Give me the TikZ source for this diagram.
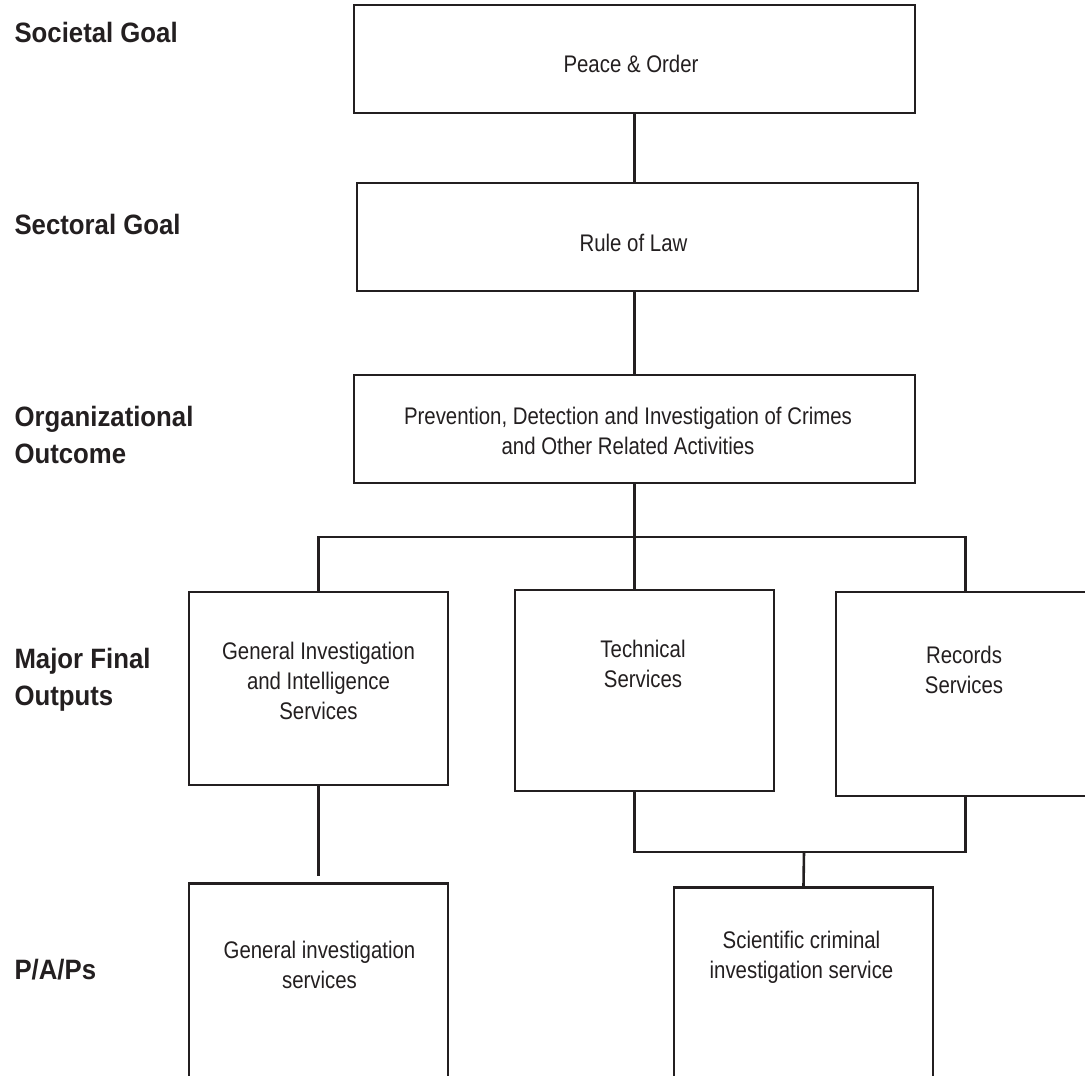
\documentclass[tikz,border=0pt]{standalone}
\usepackage{fontspec}
\setmainfont{Liberation Sans}
\newfontfamily\levelfont[FakeStretch=0.92]{Liberation Sans}
\newfontfamily\boxfont[FakeStretch=0.85]{Liberation Sans}
\usepackage{tikz}
\definecolor{ink}{HTML}{231F20}
\tikzset{
  box/.style={draw=ink, line width=2.6pt, minimum width=259pt, inner sep=0pt},
  widebox/.style={box, minimum width=561pt, minimum height=108pt},
  boxtext/.style={align=center, text=ink, font=\boxfont\fontsize{24}{30}\selectfont},
  level/.style={anchor=west, align=left, text=ink, font=\levelfont\bfseries\fontsize{28}{37}\selectfont},
  link/.style={draw=ink, line width=2.6pt}
}

\begin{document}
\begin{tikzpicture}[x=1pt,y=-1pt]
            \useasboundingbox (0,0) rectangle (1085,1076);
            \clip (0,0) rectangle (1085,1076);
            % levels
            \node[level] (societal) at (11,32) {Societal Goal};
            \node[level] (sectoral) at (11,224) {Sectoral Goal};
            \node[level] (outcome) at (11,435) {Organizational\\Outcome};
            \node[level] (mfo) at (11,680) {Major Final\\Outputs};
            \node[level] (paps) at (11,970) {P/A/Ps};
            % boxes
            \node[widebox] (peace) at (634.5,59) {};
            \node[widebox] (rule) at (637.5,237) {};
            \node[widebox] (org) at (634.5,429) {};
            \node[box, minimum height=193pt] (giis) at (318.5,688.5) {};
            \node[box, minimum height=201pt] (tech) at (644.5,690.5) {};
            \node[box, minimum height=204pt] (rec) at (965.5,694) {};
            \node[box, minimum height=240pt, anchor=north] (gis) at (318.5,882) {};
            \node[box, minimum height=240pt, anchor=north] (scis) at (803.5,886) {};
            \node[boxtext] (peacetxt) at (631,64) {Peace \& Order};
            \node[boxtext] (ruletxt) at (633.5,243) {Rule of Law};
            \node[boxtext] (orgtxt) at (628,431) {Prevention, Detection and Investigation of Crimes\\and Other Related Activities};
            \node[boxtext] (giistxt) at (318.5,681) {General Investigation\\and Intelligence\\Services};
            \node[boxtext] (techtxt) at (643,664) {Technical\\Services};
            \node[boxtext] (rectxt) at (964,670) {Records\\Services};
            \node[boxtext] (gistxt) at (319.5,965) {General investigation\\services};
            \node[boxtext] (scistxt) at (801.5,957.5) {Scientific criminal\\investigation service};
            % links
            \coordinate (split) at (634.5,537);
            \coordinate (join) at (804,852);
            \draw[link] (peace.south) -- (peace.south |- rule.north);
            \draw[link] (org.north |- rule.south) -- (org.north);
            \draw[link] (org.south) -- (org.south |- tech.north);
            \draw[link] (giis.north) |- (split) -| (rec.north);
            \draw[link] (org.south |- tech.south) |- (join) -| (rec.south);
            \draw[link] (join) -- (scis.north);
            \draw[link, shorten >=6pt] (giis.south) -- (gis.north);
        \end{tikzpicture}
\end{document}
